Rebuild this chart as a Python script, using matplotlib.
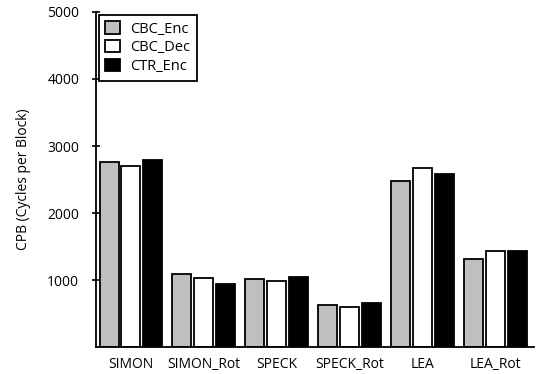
import matplotlib
matplotlib.use("Agg")
import matplotlib.pyplot as plt
import numpy as np

plt.rcParams['font.family'] = ['Open Sans', 'DejaVu Sans']

ciphers = ["SIMON", "SIMON_Rot", "SPECK", "SPECK_Rot", "LEA", "LEA_Rot"]
cbc_enc = [2760, 1090, 1015, 625, 2475, 1315]
cbc_dec = [2700, 1030, 985, 595, 2670, 1435]
ctr_enc = [2790, 945, 1045, 655, 2585, 1435]

series = [("CBC_Enc", cbc_enc, "#bfbfbf"),
          ("CBC_Dec", cbc_dec, "#ffffff"),
          ("CTR_Enc", ctr_enc, "#000000")]

fig = plt.figure(figsize=(5.36, 3.74), dpi=100)
ax = fig.add_axes([0.179, 0.072, 0.817, 0.896])

x = np.arange(len(ciphers))
width = 0.26
step = 0.30
for i, (name, vals, color) in enumerate(series):
    ax.bar(x + (i - 1) * step, vals, width, color=color, edgecolor="black",
           linewidth=1.3, label=name)

ax.set_xlim(-0.48, 5.53)
ax.set_ylim(0, 5000)
ax.set_yticks([1000, 2000, 3000, 4000, 5000])
ax.set_xticks(x)
ax.set_xticklabels(ciphers, fontsize=10)
ax.tick_params(axis='x', length=0, pad=7.5)
ax.tick_params(axis='y', direction='inout', length=6, width=1.2, labelsize=10, pad=9)
for s in ["top", "right"]:
    ax.spines[s].set_visible(False)
ax.spines["left"].set_linewidth(1.3)
ax.spines["bottom"].set_linewidth(1.3)
ax.set_ylabel("CPB (Cycles per Block)", fontsize=10, labelpad=12)

leg = ax.legend(loc="upper left", fontsize=10.5, frameon=True, fancybox=False,
                edgecolor="black", framealpha=1, borderaxespad=0.2,
                handlelength=1.0, handleheight=0.9, handletextpad=0.7,
                labelspacing=0.25, borderpad=0.45)
leg.get_frame().set_linewidth(1.3)

fig.savefig("out.png", dpi=100)
